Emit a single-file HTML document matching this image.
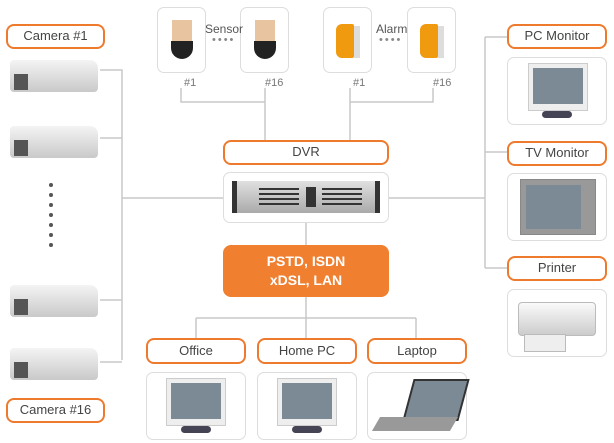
<!DOCTYPE html>
<html><head><style>
body{margin:0;width:614px;height:443px;background:#fff;position:relative;overflow:hidden;font-family:"Liberation Sans",sans-serif}
.l{position:absolute;border:2.5px solid #ee7a2e;border-radius:8px;box-sizing:border-box;text-align:center;font-size:13px;color:#444;background:#fff}
.b{position:absolute;border:1.5px solid #ddd;border-radius:7px;box-sizing:border-box;background:#fff}
.t{position:absolute;font-size:11px;color:#777}
</style></head><body>
<svg width="614" height="443" style="position:absolute;left:0;top:0" stroke="#c8c8c8" stroke-width="1.5" fill="none">
<path d="M100 70H122V360M100 138H122M100 300H122M100 362H122M122 198H223"/>
<path d="M181 88V102H265V140M265 88V102M350 88V102H433V88M350 102V140"/>
<path d="M306 222V245M306 297V318M196 318H416M196 318V338M306 318V338M416 318V338"/>
<path d="M389 198H485M485 37V268M485 37H507M485 152H507M485 268H507"/>
</svg>
<div class="l" style="left:6px;top:24px;width:99px;height:25px;line-height:20px">Camera #1</div>
<div class="l" style="left:6px;top:398px;width:99px;height:25px;line-height:20px">Camera #16</div>
<div style="position:absolute;left:10px;top:60px;width:88px;height:32px;background:linear-gradient(#f4f4f4,#c9c9c9);border-radius:4px 8px 4px 4px"></div>
<div style="position:absolute;left:14px;top:74px;width:14px;height:16px;background:#555"></div>
<div style="position:absolute;left:10px;top:126px;width:88px;height:32px;background:linear-gradient(#f4f4f4,#c9c9c9);border-radius:4px 8px 4px 4px"></div>
<div style="position:absolute;left:14px;top:140px;width:14px;height:16px;background:#555"></div>
<div style="position:absolute;left:10px;top:285px;width:88px;height:32px;background:linear-gradient(#f4f4f4,#c9c9c9);border-radius:4px 8px 4px 4px"></div>
<div style="position:absolute;left:14px;top:299px;width:14px;height:16px;background:#555"></div>
<div style="position:absolute;left:10px;top:348px;width:88px;height:32px;background:linear-gradient(#f4f4f4,#c9c9c9);border-radius:4px 8px 4px 4px"></div>
<div style="position:absolute;left:14px;top:362px;width:14px;height:16px;background:#555"></div>
<svg width="10" height="80" style="position:absolute;left:46px;top:180px"><g fill="#555"><circle cx="5" cy="5" r="2"/><circle cx="5" cy="15" r="2"/><circle cx="5" cy="25" r="2"/><circle cx="5" cy="35" r="2"/><circle cx="5" cy="45" r="2"/><circle cx="5" cy="55" r="2"/><circle cx="5" cy="65" r="2"/></g></svg>
<div class="b" style="left:157px;top:7px;width:49px;height:66px"><div style="position:absolute;left:14px;top:12px;width:20px;height:22px;background:#e8c4a0"></div><div style="position:absolute;left:13px;top:33px;width:22px;height:18px;background:#222;border-radius:0 0 11px 11px"></div></div>
<div class="b" style="left:240px;top:7px;width:49px;height:66px"><div style="position:absolute;left:14px;top:12px;width:20px;height:22px;background:#e8c4a0"></div><div style="position:absolute;left:13px;top:33px;width:22px;height:18px;background:#222;border-radius:0 0 11px 11px"></div></div>
<div class="t" style="left:205px;top:22px;font-size:12px;color:#555">Sensor</div>
<div class="t" style="left:212px;top:34px;letter-spacing:2px;color:#888">••••</div>
<div class="b" style="left:323px;top:7px;width:49px;height:66px"><div style="position:absolute;left:12px;top:16px;width:18px;height:34px;background:#f09a10;border-radius:6px 2px 2px 6px"></div><div style="position:absolute;left:30px;top:18px;width:6px;height:32px;background:#ddd"></div></div>
<div class="b" style="left:407px;top:7px;width:49px;height:66px"><div style="position:absolute;left:12px;top:16px;width:18px;height:34px;background:#f09a10;border-radius:6px 2px 2px 6px"></div><div style="position:absolute;left:30px;top:18px;width:6px;height:32px;background:#ddd"></div></div>
<div class="t" style="left:376px;top:22px;font-size:12px;color:#555">Alarm</div>
<div class="t" style="left:379px;top:34px;letter-spacing:2px;color:#888">••••</div>
<div class="t" style="left:184px;top:77px">#1</div><div class="t" style="left:265px;top:77px">#16</div>
<div class="t" style="left:353px;top:77px">#1</div><div class="t" style="left:433px;top:77px">#16</div>
<div class="l" style="left:223px;top:140px;width:166px;height:25px;line-height:20px">DVR</div>
<div class="b" style="left:223px;top:172px;width:166px;height:51px"><div style="position:absolute;left:8px;top:8px;width:148px;height:32px;background:linear-gradient(#e0e0e0,#aaa);border-left:5px solid #333;border-right:5px solid #333;box-sizing:border-box"></div>
<div style="position:absolute;left:35px;top:15px;width:40px;height:18px;background:repeating-linear-gradient(#333 0 2px,transparent 2px 5px)"></div><div style="position:absolute;left:82px;top:14px;width:10px;height:20px;background:#333"></div><div style="position:absolute;left:98px;top:15px;width:40px;height:18px;background:repeating-linear-gradient(#333 0 2px,transparent 2px 5px)"></div></div>
<div style="position:absolute;left:223px;top:245px;width:166px;height:52px;background:#f07f2f;border-radius:8px;color:#fff;font-weight:bold;font-size:14px;text-align:center;line-height:19px;padding-top:7px;box-sizing:border-box">PSTD, ISDN<br>xDSL, LAN</div>
<div class="l" style="left:146px;top:338px;width:100px;height:26px;line-height:21px">Office</div>
<div class="l" style="left:257px;top:338px;width:100px;height:26px;line-height:21px">Home PC</div>
<div class="l" style="left:367px;top:338px;width:100px;height:26px;line-height:21px">Laptop</div>
<div class="b" style="left:146px;top:372px;width:100px;height:68px"><div style="position:absolute;left:19px;top:5px;width:58px;height:46px;background:#eee;border:1px solid #ccc"><div style="margin:4px;height:36px;background:#7c8a96"></div></div><div style="position:absolute;left:34px;top:53px;width:30px;height:7px;background:#445;border-radius:4px"></div></div>
<div class="b" style="left:257px;top:372px;width:100px;height:68px"><div style="position:absolute;left:19px;top:5px;width:58px;height:46px;background:#eee;border:1px solid #ccc"><div style="margin:4px;height:36px;background:#7c8a96"></div></div><div style="position:absolute;left:34px;top:53px;width:30px;height:7px;background:#445;border-radius:4px"></div></div>
<div class="b" style="left:367px;top:372px;width:100px;height:68px"><div style="position:absolute;left:40px;top:6px;width:52px;height:38px;background:#7c8a96;border:2px solid #333;transform:skewX(-15deg)"></div><div style="position:absolute;left:8px;top:44px;width:78px;height:14px;background:#999;transform:skewX(-30deg)"></div></div>
<div class="l" style="left:507px;top:24px;width:100px;height:25px;line-height:20px">PC Monitor</div>
<div class="b" style="left:507px;top:57px;width:100px;height:68px"><div style="position:absolute;left:20px;top:5px;width:58px;height:46px;background:#eee;border:1px solid #ccc"><div style="margin:4px;height:36px;background:#7c8a96"></div></div><div style="position:absolute;left:34px;top:53px;width:30px;height:7px;background:#445;border-radius:4px"></div></div>
<div class="l" style="left:507px;top:141px;width:100px;height:25px;line-height:20px">TV Monitor</div>
<div class="b" style="left:507px;top:173px;width:100px;height:68px"><div style="position:absolute;left:12px;top:5px;width:74px;height:54px;background:#999;border:1px solid #888"><div style="margin:5px 14px 5px 5px;height:44px;background:#7c8a96"></div></div></div>
<div class="l" style="left:507px;top:256px;width:100px;height:25px;line-height:20px">Printer</div>
<div class="b" style="left:507px;top:289px;width:100px;height:68px"><div style="position:absolute;left:10px;top:12px;width:76px;height:32px;background:linear-gradient(#fafafa,#ccc);border-radius:4px;border:1px solid #bbb"></div><div style="position:absolute;left:16px;top:44px;width:40px;height:16px;background:#eee;border:1px solid #bbb"></div></div>
</body></html>
